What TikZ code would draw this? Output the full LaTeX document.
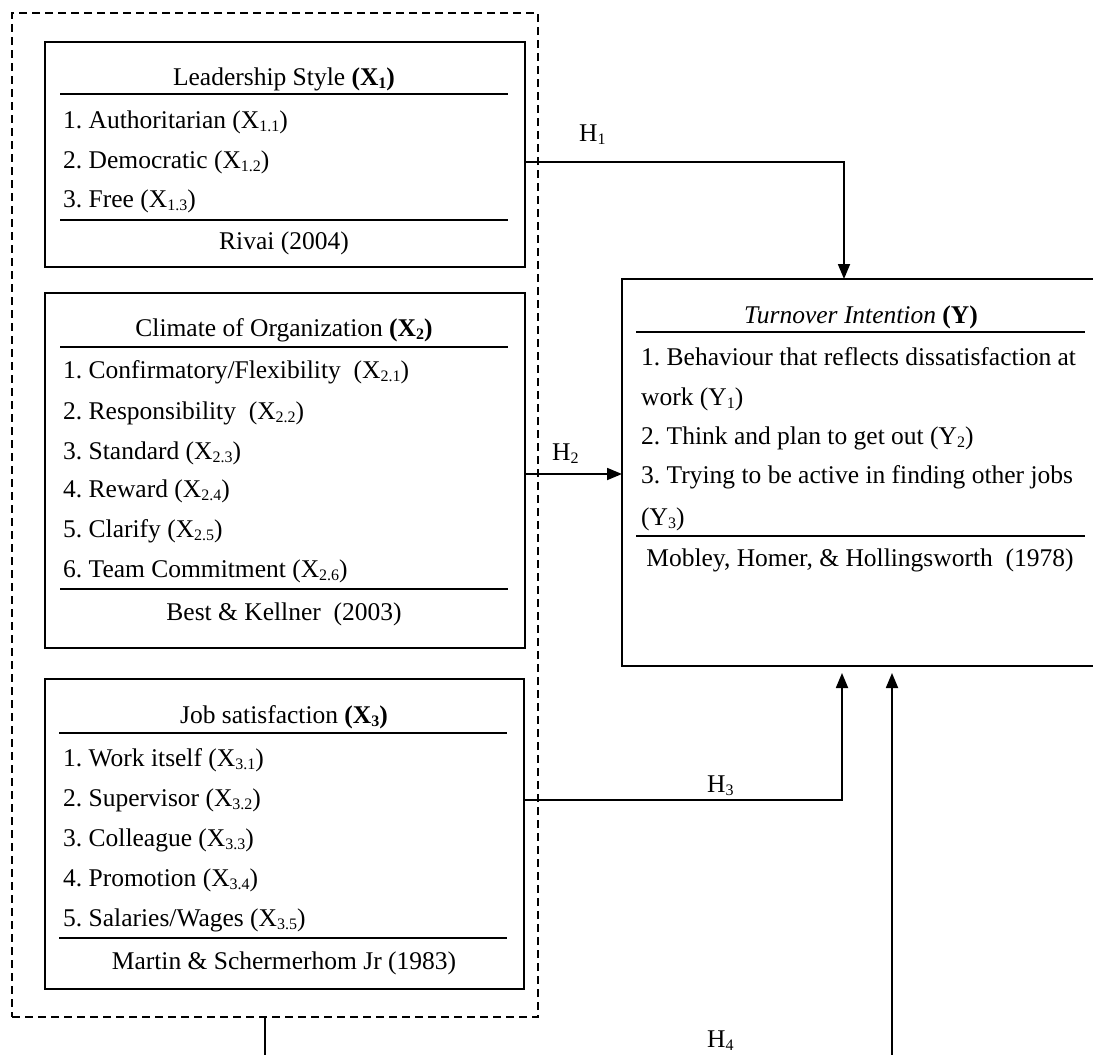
\documentclass[tikz,border=0pt]{standalone}
\usepackage{fontspec}
\setmainfont{Liberation Serif}
\usetikzlibrary{arrows.meta}
\frenchspacing
\newcommand\sbs[1]{\raisebox{-0.12em}{\fontsize{16}{16}\selectfont #1}}
\begin{document}
\begin{tikzpicture}[x=1pt,y=-1pt,
  box/.style={draw, line width=1.8pt, rectangle, inner sep=0pt, outer sep=0pt, anchor=north west},
  grpbox/.style={draw, line width=1.8pt, dash pattern=on 8pt off 5pt, rectangle, inner sep=0pt, outer sep=0pt, anchor=north west},
  txt/.style={font=\fontsize{25.5}{30}\selectfont\frenchspacing, inner sep=0pt, anchor=base west},
  ctr/.style={font=\fontsize{25.5}{30}\selectfont\frenchspacing, inner sep=0pt, anchor=base},
  rulel/.style={line width=1.8pt},
  arr/.style={line width=1.8pt, -{Triangle[length=15pt,width=12pt]}},
  conn/.style={line width=1.8pt}
]
\useasboundingbox (0,0) rectangle (1093,1055);
\clip (0,0) rectangle (1093,1055);

% group and boxes
\node[grpbox, minimum width=526pt, minimum height=1004pt] (grp) at (12,13) {};
\node[box, minimum width=480pt, minimum height=225pt] (X1box) at (45,42) {};
\node[box, minimum width=480pt, minimum height=355pt] (X2box) at (45,293) {};
\node[box, minimum width=479pt, minimum height=310pt] (X3box) at (45,679) {};
\node[box, minimum width=490pt, minimum height=387pt] (Ybox) at (622,279) {};

% X1 contents
\node[ctr] (x1t) at (284,85) {Leadership Style \textbf{(X\sbs{1})}};
\draw[rulel] (60,94) -- (508,94);
\node[txt] (x11) at (63,128) {1. Authoritarian (X\sbs{1.1})};
\node[txt] (x12) at (63,168) {2. Democratic (X\sbs{1.2})};
\node[txt] (x13) at (63,207) {3. Free (X\sbs{1.3})};
\draw[rulel] (60,220) -- (508,220);
\node[ctr] (x1s) at (284,249) {Rivai (2004)};

% X2 contents
\node[ctr] (x2t) at (284,336) {Climate of Organization \textbf{(X\sbs{2})}};
\draw[rulel] (60,347) -- (508,347);
\node[txt] (x21) at (63,378) {1. Confirmatory/Flexibility\ \ (X\sbs{2.1})};
\node[txt] (x22) at (63,419) {2. Responsibility\ \ (X\sbs{2.2})};
\node[txt] (x23) at (63,459) {3. Standard (X\sbs{2.3})};
\node[txt] (x24) at (63,497) {4. Reward (X\sbs{2.4})};
\node[txt] (x25) at (63,537) {5. Clarify (X\sbs{2.5})};
\node[txt] (x26) at (63,577) {6. Team Commitment (X\sbs{2.6})};
\draw[rulel] (60,589) -- (508,589);
\node[ctr] (x2s) at (284,620) {Best \& Kellner\ \ (2003)};

% X3 contents
\node[ctr] (x3t) at (284,723) {Job satisfaction \textbf{(X\sbs{3})}};
\draw[rulel] (59,733) -- (507,733);
\node[txt] (x31) at (63,766) {1. Work itself (X\sbs{3.1})};
\node[txt] (x32) at (63,806) {2. Supervisor (X\sbs{3.2})};
\node[txt] (x33) at (63,846) {3. Colleague (X\sbs{3.3})};
\node[txt] (x34) at (63,886) {4. Promotion (X\sbs{3.4})};
\node[txt] (x35) at (63,926) {5. Salaries/Wages (X\sbs{3.5})};
\draw[rulel] (59,938) -- (507,938);
\node[ctr] (x3s) at (284,969) {Martin \& Schermerhom Jr (1983)};

% Y contents
\node[ctr] (yt) at (861,323) {\textit{Turnover Intention} \textbf{(Y)}};
\draw[rulel] (636,332) -- (1085,332);
\node[txt] (y1a) at (641,365) {1. Behaviour that reflects dissatisfaction at};
\node[txt] (y1b) at (641,405) {work (Y\sbs{1})};
\node[txt] (y2) at (641,444) {2. Think and plan to get out (Y\sbs{2})};
\node[txt] (y3a) at (641,483) {3. Trying to be active in finding other jobs};
\node[txt] (y3b) at (641,525) {(Y\sbs{3})};
\draw[rulel] (636,536) -- (1085,536);
\node[ctr] (ys) at (860,566) {Mobley, Homer, \& Hollingsworth\ \ (1978)};

% hypothesis labels
\node[txt] (h1) at (579,141) {H\sbs{1}};
\node[txt] (h2) at (552,460) {H\sbs{2}};
\node[txt] (h3) at (707,792) {H\sbs{3}};
\node[txt] (h4) at (707,1047) {H\sbs{4}};

% connectors
\coordinate (t3) at (842,673);
\coordinate (t4) at (892,673);
\coordinate (b4) at (265,1080);
\draw[arr] (X1box.east |- 0,162) -| (Ybox.north -| 844,0);
\draw[arr] (X2box.east |- 0,474) -- (Ybox.west |- 0,474);
\draw[arr] (X3box.east |- 0,800) -| (t3);
\draw[arr] (grp.south -| b4) -- (b4) -| (t4);
\end{tikzpicture}
\end{document}
